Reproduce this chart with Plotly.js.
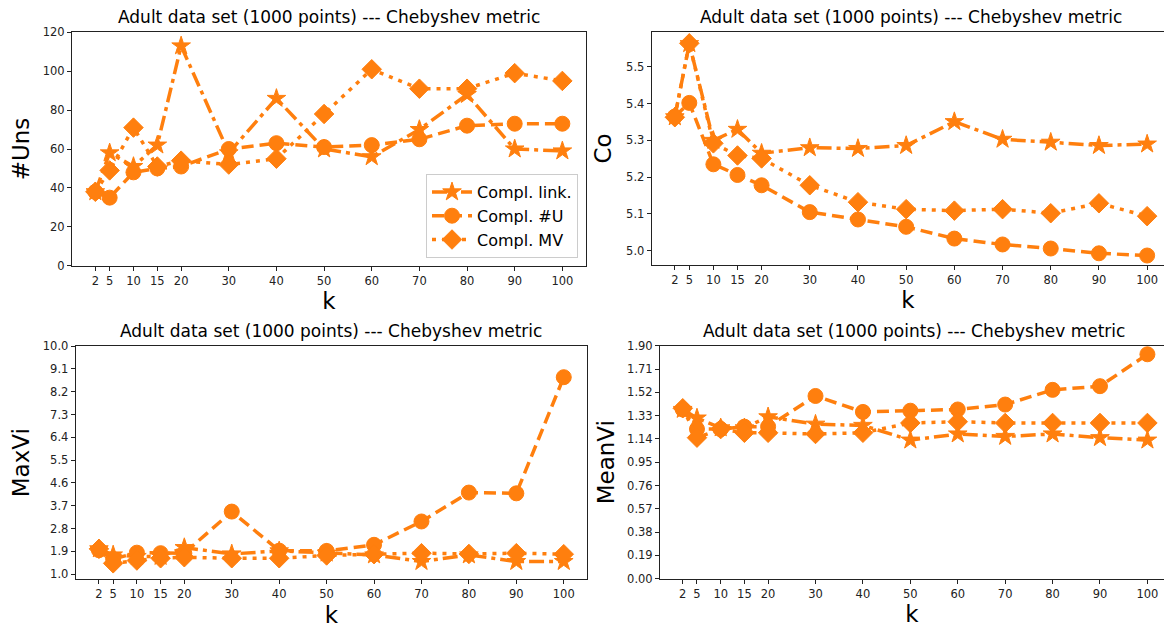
<!DOCTYPE html>
<html>
<head>
<meta charset="utf-8">
<script src="https://cdn.plot.ly/plotly-3.0.1.min.js"></script>
<style>html,body{margin:0;padding:0;background:#fff;}#chart{width:1164px;height:630px;}</style>
</head>
<body>
<div id="chart"></div>
<script>
// ---- data ----
const kValues = [2, 5, 10, 15, 20, 30, 40, 50, 60, 70, 80, 90, 100];
const seriesNames = ["Compl. link.", "Compl. #U", "Compl. MV"];

const unsLink = [38, 58, 51, 62, 113, 58, 86, 60, 56, 70, 88, 60, 59];
const unsU    = [38, 35, 48, 50, 51, 60, 63, 61, 62, 65, 72, 73, 73];
const unsMV   = [38, 49, 71, 51, 54, 52, 55, 78, 101, 91, 91, 99, 95];

const coLink = [5.364, 5.563, 5.30, 5.33, 5.265, 5.28, 5.278, 5.286, 5.351, 5.303, 5.295, 5.286, 5.29];
const coU    = [5.365, 5.402, 5.235, 5.206, 5.178, 5.105, 5.085, 5.065, 5.033, 5.017, 5.006, 4.993, 4.987];
const coMV   = [5.363, 5.564, 5.292, 5.259, 5.251, 5.178, 5.132, 5.113, 5.109, 5.113, 5.102, 5.129, 5.094];

const maxLink = [2.0, 1.76, 1.7, 1.7, 2.05, 1.8, 1.92, 1.83, 1.76, 1.5, 1.76, 1.5, 1.5];
const maxU    = [1.95, 1.6, 1.85, 1.83, 1.83, 3.47, 1.93, 1.92, 2.16, 3.08, 4.22, 4.19, 8.77];
const maxMV   = [2.0, 1.43, 1.54, 1.63, 1.67, 1.63, 1.63, 1.74, 1.79, 1.83, 1.8, 1.83, 1.79];

const meanLink = [1.38, 1.31, 1.23, 1.23, 1.32, 1.26, 1.25, 1.13, 1.18, 1.16, 1.18, 1.15, 1.13];
const meanU    = [1.38, 1.22, 1.22, 1.24, 1.24, 1.49, 1.36, 1.37, 1.38, 1.42, 1.54, 1.57, 1.83];
const meanMV   = [1.39, 1.15, 1.22, 1.19, 1.19, 1.18, 1.19, 1.27, 1.28, 1.27, 1.27, 1.27, 1.27];

const xTickVals = [2, 5, 10, 15, 20, 30, 40, 50, 60, 70, 80, 90, 100];
const unsTicks = [0, 20, 40, 60, 80, 100, 120];
const coTicks = [5.0, 5.1, 5.2, 5.3, 5.4, 5.5];
const coTickText = ["5.0", "5.1", "5.2", "5.3", "5.4", "5.5"];
const maxTicks = [1.0, 1.9, 2.8, 3.7, 4.6, 5.5, 6.4, 7.3, 8.2, 9.1, 10.0];
const maxTickText = ["1.0", "1.9", "2.8", "3.7", "4.6", "5.5", "6.4", "7.3", "8.2", "9.1", "10.0"];
const meanTicks = [0.00, 0.19, 0.38, 0.57, 0.76, 0.95, 1.14, 1.33, 1.52, 1.71, 1.90];
const meanTickText = ["0.00", "0.19", "0.38", "0.57", "0.76", "0.95", "1.14", "1.33", "1.52", "1.71", "1.90"];

const panelTitle = "Adult data set (1000 points) --- Chebyshev metric";
const yTitles = ["#Uns", "Co", "MaxVi", "MeanVi"];
const xTitle = "k";

// ---- style ----
const W = 1164, H = 630;
const ORANGE = "#ff7f0e";
const FONT = "DejaVu Sans";
const fx = p => p / W;
const fy = p => 1 - p / H;

const styles = [
  {symbol: "star", size: 14, dash: "15px,5px,4px,5px"},
  {symbol: "circle", size: 15, dash: "12px,6px"},
  {symbol: "diamond", size: 15, dash: "4px,6px"}
];

function mk(y, si, xa, ya, showLegend) {
  const s = styles[si];
  return {
    x: kValues, y: y, xaxis: xa, yaxis: ya,
    type: "scatter", mode: "lines+markers",
    name: seriesNames[si], showlegend: showLegend, legendgroup: "g" + si,
    line: {color: ORANGE, width: 3.5, dash: s.dash},
    marker: {color: ORANGE, symbol: s.symbol, size: s.size, line: {color: ORANGE, width: 1}}
  };
}

const traces = [
  mk(unsLink, 0, "x", "y", true), mk(unsU, 1, "x", "y", true), mk(unsMV, 2, "x", "y", true),
  mk(coLink, 0, "x2", "y2", false), mk(coU, 1, "x2", "y2", false), mk(coMV, 2, "x2", "y2", false),
  mk(maxLink, 0, "x3", "y3", false), mk(maxU, 1, "x3", "y3", false), mk(maxMV, 2, "x3", "y3", false),
  mk(meanLink, 0, "x4", "y4", false), mk(meanU, 1, "x4", "y4", false), mk(meanMV, 2, "x4", "y4", false)
];

const tickFont = {family: FONT, size: 11.5, color: "#222"};
const titleFont = {family: FONT, size: 23, color: "#000"};

function xax(d0, d1, r0, r1, anchor) {
  return {
    domain: [fx(d0), fx(d1)], range: [r0, r1], anchor: anchor,
    tickmode: "array", tickvals: xTickVals, ticks: "outside", ticklen: 4, tickwidth: 1, tickcolor: "#222",
    showline: true, linecolor: "#222", linewidth: 1, mirror: true,
    showgrid: false, zeroline: false, tickfont: tickFont,
    title: {text: xTitle, font: titleFont, standoff: 6}
  };
}
function yax(top, bot, r, tv, tt, title, anchor, standoff) {
  return {
    domain: [fy(bot), fy(top)], range: r, anchor: anchor,
    tickmode: "array", tickvals: tv, ticktext: tt, ticks: "outside", ticklen: 4, tickwidth: 1, tickcolor: "#222",
    showline: true, linecolor: "#222", linewidth: 1, mirror: true,
    showgrid: false, zeroline: false, tickfont: tickFont,
    title: {text: title, font: titleFont, standoff: standoff}
  };
}

function titleAnn(cx, cy) {
  return {
    text: panelTitle, xref: "paper", yref: "paper", x: fx(cx), y: fy(cy),
    xanchor: "center", yanchor: "middle", showarrow: false,
    font: {family: FONT, size: 17, color: "#000"}
  };
}

const layout = {
  width: W, height: H,
  margin: {l: 0, r: 0, t: 0, b: 0},
  paper_bgcolor: "#fff", plot_bgcolor: "#fff",
  font: {family: FONT},
  xaxis:  xax(72, 585.7, -2.9, 104.9, "y"),
  yaxis:  yax(32.3, 265.7, [0, 120], unsTicks, unsTicks.map(String), yTitles[0], "x", 6),
  xaxis2: xax(651.7, 1164, -2.8, 103.5, "y2"),
  yaxis2: yax(32.3, 264.7, [4.962, 5.594], coTicks, coTickText, yTitles[1], "x2", 8),
  xaxis3: xax(75.7, 587, -2.9, 104.9, "y3"),
  yaxis3: yax(346, 579.3, [0.8, 10.0], maxTicks, maxTickText, yTitles[2], "x3", 6),
  xaxis4: xax(660, 1164, -2.8, 103.5, "y4"),
  yaxis4: yax(345.7, 578.7, [0, 1.9], meanTicks, meanTickText, yTitles[3], "x4", 6),
  legend: {
    x: fx(578), y: fy(258), xanchor: "right", yanchor: "bottom",
    bgcolor: "rgba(255,255,255,0.8)", bordercolor: "#cccccc", borderwidth: 1,
    font: {family: FONT, size: 16, color: "#000"}, itemwidth: 40, tracegroupgap: 0
  },
  annotations: [
    titleAnn(329, 17.3), titleAnn(911, 17.3), titleAnn(331, 331), titleAnn(914, 331)
  ],
  showlegend: true
};

Plotly.newPlot("chart", traces, layout, {staticPlot: true, displayModeBar: false});
</script>
</body>
</html>
